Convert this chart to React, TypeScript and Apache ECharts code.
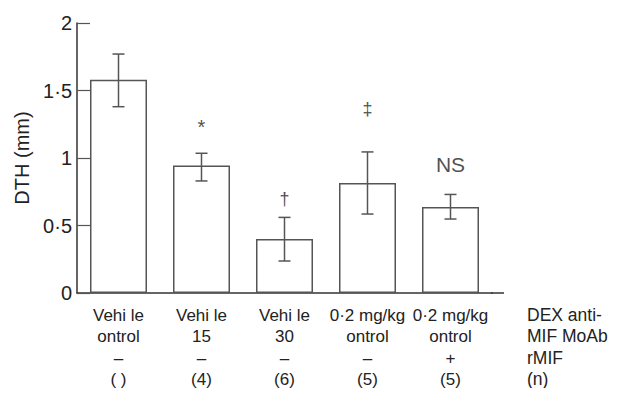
import React, { useEffect, useRef } from "react";
import * as echarts from "echarts";

const categories = ["Vehi le", "Vehi le", "Vehi le", "0·2 mg/kg", "0·2 mg/kg"];
const line2 = ["ontrol", "15", "30", "ontrol", "ontrol"];
const rmifSigns = ["–", "–", "–", "–", "+"];
const nCounts = ["( )", "(4)", "(6)", "(5)", "(5)"];
const meanDTH = [1.58, 0.945, 0.4, 0.815, 0.637];
const errHigh = [1.77, 1.035, 0.56, 1.045, 0.73];
const errLow = [1.38, 0.83, 0.237, 0.585, 0.548];
const annotText = ["", "*", "†", "‡", "NS"];
const annotPos = [0, 1.23, 0.7, 1.36, 0.95];
const yTicks = [0, 0.5, 1, 1.5, 2];
const rowLabels = ["DEX anti-", "MIF MoAb", "rMIF", "(n)"];

export default function App() {
  const ref = useRef<HTMLDivElement>(null);
  useEffect(() => {
    if (!ref.current) return;
    const chart = echarts.init(ref.current, null, { renderer: "svg" });
    const font = "'Liberation Sans', Arial, sans-serif";
    const xLabels = categories.map(
      (c, i) => `${c}\n${line2[i]}\n${rmifSigns[i]}\n${nCounts[i]}`
    );
    const annotData = annotText
      .map((t, i) => ({ t, i }))
      .filter((d) => d.t !== "")
      .map((d) => ({
        value: [d.i, annotPos[d.i]],
        label: { formatter: d.t, fontSize: d.t === "NS" ? 21 : d.t === "*" ? 20 : 18 },
      }));
    chart.setOption({
      animation: false,
      textStyle: { fontFamily: font },
      grid: { left: 77, top: 23, width: 415, bottom: 103 },
      xAxis: {
        type: "category",
        data: xLabels,
        axisLine: { lineStyle: { color: "#333", width: 1.5 } },
        axisTick: { inside: true, alignWithLabel: true, length: 9, lineStyle: { color: "#555", width: 1.2 } },
        axisLabel: {
          interval: 0,
          hideOverlap: false,
          color: "#222",
          fontSize: 17,
          lineHeight: 21.3,
          margin: 12,
          fontFamily: font,
        },
      },
      yAxis: {
        type: "value",
        min: 0,
        max: 2,
        interval: 0.5,
        name: "DTH (mm)",
        nameLocation: "middle",
        nameGap: 44,
        nameTextStyle: { fontSize: 20, color: "#222", fontFamily: font },
        axisLine: { show: true, lineStyle: { color: "#333", width: 1.5 } },
        axisTick: { show: true, inside: true, length: 13, lineStyle: { color: "#555", width: 1.2 } },
        splitLine: { show: false },
        axisLabel: {
          color: "#222",
          fontSize: 20,
          margin: 5,
          fontFamily: font,
          formatter: (v: number) => (yTicks.includes(v) ? String(v).replace(".", "·") : ""),
        },
      },
      graphic: [
        {
          type: "line",
          shape: { x1: 491, y1: 293, x2: 504, y2: 293 },
          style: { stroke: "#333", lineWidth: 1.5 },
        },
        {
          type: "text",
          left: 527,
          top: 304,
          style: {
            text: rowLabels.join("\n"),
            fontSize: 17.5,
            lineHeight: 21.5,
            fill: "#222",
            fontFamily: font,
          },
        },
      ],
      series: [
        {
          type: "bar",
          data: meanDTH,
          barWidth: 57,
          itemStyle: { color: "#fff", borderColor: "#555", borderWidth: 1.5 },
        },
        {
          type: "custom",
          data: meanDTH.map((_, i) => [i, errLow[i], errHigh[i]]),
          renderItem: (params: any, api: any) => {
            const x = api.value(0);
            const lo = api.coord([x, api.value(1)]);
            const hi = api.coord([x, api.value(2)]);
            const hw = 6;
            const st = { stroke: "#555", lineWidth: 1.5 };
            return {
              type: "group",
              children: [
                { type: "line", shape: { x1: lo[0], y1: lo[1], x2: hi[0], y2: hi[1] }, style: st },
                { type: "line", shape: { x1: hi[0] - hw, y1: hi[1], x2: hi[0] + hw, y2: hi[1] }, style: st },
                { type: "line", shape: { x1: lo[0] - hw, y1: lo[1], x2: lo[0] + hw, y2: lo[1] }, style: st },
              ],
            };
          },
          z: 3,
        },
        {
          type: "scatter",
          data: annotData,
          symbolSize: 0,
          label: {
            show: true,
            position: "inside",
            color: "#222",
            fontFamily: font,
          },
          z: 4,
        },
      ],
    });
    return () => chart.dispose();
  }, []);
  return <div ref={ref} style={{ width: 631, height: 396, margin: -8 }} />;
}
